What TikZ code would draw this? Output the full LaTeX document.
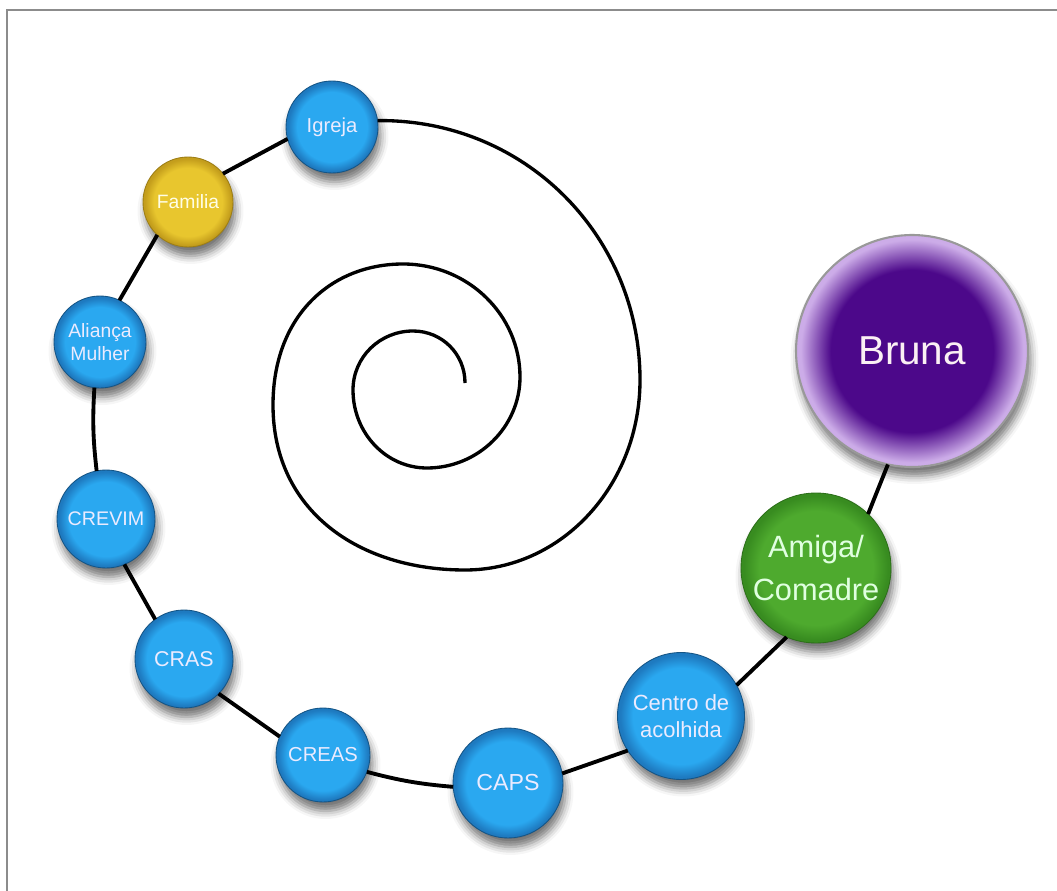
\documentclass[tikz,border=0pt]{standalone}
\usepackage{fontspec}
\setmainfont{Liberation Sans}
\usetikzlibrary{shadows,shadows.blur}

\definecolor{blueA}{RGB}{42,168,240}
\definecolor{blueB}{RGB}{30,122,192}
\definecolor{yellowA}{RGB}{232,198,46}
\definecolor{yellowB}{RGB}{196,158,28}
\definecolor{greenA}{RGB}{78,170,46}
\definecolor{greenB}{RGB}{56,140,32}
\definecolor{purpleA}{RGB}{76,8,138}
\definecolor{purpleB}{RGB}{204,172,232}
\definecolor{framegray}{RGB}{140,140,140}

% the path box is the middle 50bp of the shading, so the rim sits at 25bp
\pgfdeclareradialshading{bluedisk}{\pgfpoint{0bp}{0bp}}{color(0bp)=(blueA); color(19bp)=(blueA); color(24bp)=(blueB); color(50bp)=(blueB)}
\pgfdeclareradialshading{yellowdisk}{\pgfpoint{0bp}{0bp}}{color(0bp)=(yellowA); color(19bp)=(yellowA); color(24bp)=(yellowB); color(50bp)=(yellowB)}
\pgfdeclareradialshading{greendisk}{\pgfpoint{0bp}{0bp}}{color(0bp)=(greenA); color(19bp)=(greenA); color(24bp)=(greenB); color(50bp)=(greenB)}
\pgfdeclareradialshading{purpledisk}{\pgfpoint{0bp}{0bp}}{color(0bp)=(purpleA); color(17.5bp)=(purpleA); color(24bp)=(purpleB); color(50bp)=(purpleB)}

\begin{document}
\begin{tikzpicture}[
    x=0.02cm, y=-0.02cm,
    disk/.style={circle, inner sep=0pt, outer sep=0pt, align=center,
        blur shadow={shadow xshift=0.5mm, shadow yshift=-1.8mm, shadow blur radius=1.6mm, shadow opacity=55}},
    bluenode/.style={disk, shade, shading=bluedisk, draw=blueB!70!black, line width=0.5pt,
        text=blue!8!white, font=\fontsize{11.5}{13.5}\selectfont},
    familynode/.style={disk, shade, shading=yellowdisk, draw=yellowB!80!black, line width=0.5pt,
        text=yellow!10!white, font=\fontsize{11}{13}\selectfont},
    friendnode/.style={disk, shade, shading=greendisk, draw=greenB!80!black, line width=0.5pt,
        text=green!12!white, font=\fontsize{17.5}{24}\selectfont},
    centernode/.style={disk, shade, shading=purpledisk, draw=gray!80, line width=1.2pt,
        text=purple!6!white, font=\fontsize{23}{26}\selectfont},
    link/.style={line width=2.2pt, black},
    spiralline/.style={line width=1.9pt, black}
]
    \useasboundingbox (0,0) rectangle (1057,891);
    \draw[framegray, line width=1.1pt] (7,891) -- (7,10) -- (1057,10);

    \node[bluenode, minimum size=1.84cm] (igreja) at (332,127) {Igreja};
    \node[familynode, minimum size=1.80cm] (familia) at (188,202) {Familia};
    \node[bluenode, minimum size=1.84cm, font=\fontsize{11}{13}\selectfont] (alianca) at (100,342) {Aliança\\Mulher};
    \node[bluenode, minimum size=1.96cm, font=\fontsize{11.2}{13}\selectfont] (crevim) at (106,519) {CREVIM};
    \node[bluenode, minimum size=1.96cm, font=\fontsize{12.2}{14}\selectfont] (cras) at (184,659) {CRAS};
    \node[bluenode, minimum size=1.88cm] (creas) at (323,755) {CREAS};
    \node[bluenode, minimum size=2.20cm, font=\fontsize{13.2}{15}\selectfont] (caps) at (508,783) {CAPS};
    \node[bluenode, minimum size=2.54cm, font=\fontsize{12.5}{15.5}\selectfont] (centro) at (681,716) {Centro de\\acolhida};
    \node[friendnode, minimum size=3.00cm] (amiga) at (816,568) {Amiga/\\Comadre};
    \node[centernode, minimum size=4.64cm] (bruna) at (912,351) {Bruna};

    \draw[link] (familia.39) -- (igreja.195);
    \draw[link] (familia.227) -- (alianca.65);
    \draw[link] (alianca.263) to[bend right=5] (crevim.101);
    \draw[link] (crevim.-68) -- (cras.126);
    \draw[link] (cras.-45) -- (creas.157);
    \draw[link] (creas.-21) to[bend right=5] (caps.184);
    \draw[link] (caps.10) -- (centro.213);
    \draw[link] (centro.29) -- (amiga.247);
    \draw[link] (amiga.46) -- (bruna.-102);

    % spiral from Igreja into the middle
    \coordinate (eye) at (465,383);
    \draw[spiralline] (igreja.8)
        .. controls (525,119) and (640,236) .. (640,380)
        .. controls (640,485) and (562,570) .. (465,570)
        .. controls (359,570) and (273,511) .. (273,405)
        .. controls (273,316) and (331,264) .. (403,264)
        .. controls (468,264) and (520,315) .. (520,377)
        .. controls (520,427) and (478,468) .. (427,468)
        .. controls (386,468) and (353,433) .. (353,390)
        .. controls (353,357) and (380,331) .. (413,331)
        .. controls (442,331) and (465,354) .. (eye);
\end{tikzpicture}
\end{document}
